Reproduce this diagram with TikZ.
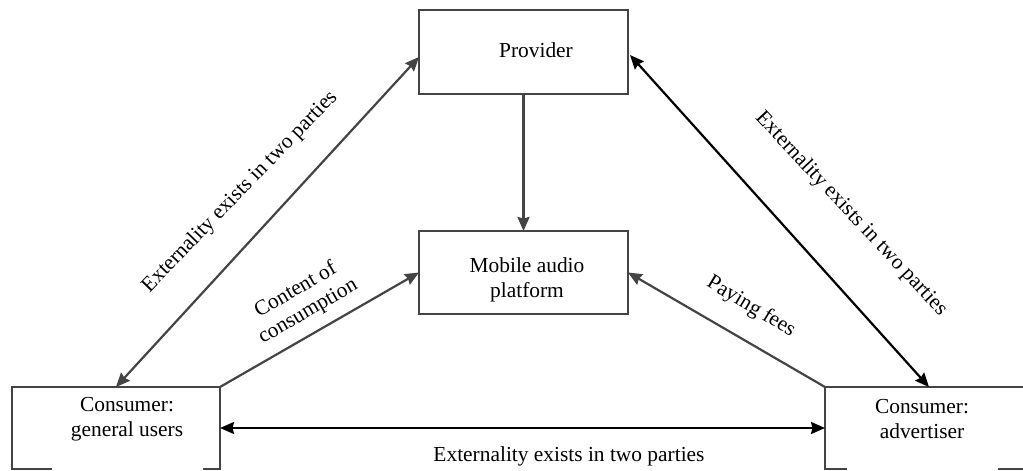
\documentclass[tikz,border=0pt]{standalone}
\usepackage{fontspec}
\setmainfont{Liberation Serif}
\usetikzlibrary{arrows.meta,calc}
\definecolor{edgegray}{RGB}{68,68,68}
\tikzset{
  pane/.style={draw=none, rectangle, inner sep=0pt, outer sep=0pt},
  paneline/.style={draw=edgegray, line width=2.4pt},
  txt/.style={inner sep=0pt, align=center, font=\fontsize{21.4}{24.5}\selectfont},
  glink/.style={draw=edgegray, line width=2.2pt},
  blink/.style={draw=black, line width=2.2pt}
}
\begin{document}
\begin{tikzpicture}[x=1pt, y=-1pt, >={Stealth[length=14pt, width=12pt, inset=1.5pt]}]
\useasboundingbox (0,0) rectangle (1023,471);
\clip (0,0) rectangle (1023,471);

% boxes
\node[pane, paneline, minimum width=209pt, minimum height=84pt] (prov) at (523.5,52) {};
\node[txt] (provtxt) at (536,50) {Provider};

\node[pane, paneline, minimum width=209pt, minimum height=83pt] (mob) at (523.5,272.5) {};
\node[txt] (mobtxt) at (527,280) {Mobile audio\\platform};

\node[pane, minimum width=208pt, minimum height=82pt] (users) at (116,428) {};
\node[txt] (userstxt) at (127,419) {Consumer:\\general users};
\draw[paneline] ($(users.south west)+(40,0)$) -- (users.south west) -- (users.north west)
  -- (users.north east) -- (users.south east) -- +(-17,0);

\node[pane, minimum width=208pt, minimum height=82pt] (adv) at (929,428) {};
\node[txt] (advtxt) at (922,419) {Consumer:\\advertiser};
\draw[paneline] ($(adv.south west)+(22,0)$) -- (adv.south west) -- (adv.north west)
  -- (adv.north east) -- (adv.south east) -- +(-35,0);

% connectors
\draw[glink, ->] (prov.south) -- (mob.north);
\draw[glink, <->] (users.north) -- ($(prov.west)+(0,5)$);
\draw[blink, <->] ($(prov.east)+(2,3)$) -- (adv.north);
\draw[glink, ->] (users.north east) -- (mob.west);
\draw[glink, ->] (adv.north west) -- (mob.east);
\draw[blink, <->] (users.east) -- (adv.west);

% connector labels
\node[txt, rotate=46] (lbl1) at (240,192) {Externality exists in two parties};
\node[txt, rotate=-47] (lbl2) at (851,214) {Externality exists in two parties};
\node[txt, rotate=30] (lbl3) at (302,301) {Content of\\consumption};
\node[txt, rotate=-31] (lbl4) at (751,307) {Paying fees};
\node[txt] (lbl5) at (569,456) {Externality exists in two parties};
\end{tikzpicture}
\end{document}
